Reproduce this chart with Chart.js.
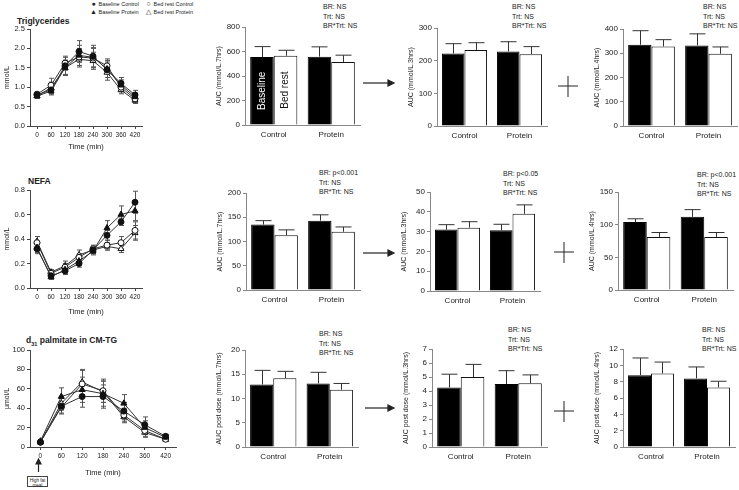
<!DOCTYPE html>
<html>
<head>
<meta charset="utf-8">
<script src="https://cdn.jsdelivr.net/npm/chart.js@4.4.1/dist/chart.umd.min.js"></script>
<style>
body{margin:0;background:#fff;width:739px;height:490px;position:relative;overflow:hidden;font-family:'Liberation Sans',Arial,sans-serif;color:#222}
canvas{position:absolute}
.t{position:absolute;white-space:nowrap}
.ttl{font-size:8.5px;font-weight:bold}
.ann{font-family:'Liberation Sans Narrow','Liberation Sans',Arial,sans-serif;font-size:7px;line-height:9.5px}
.leg{font-size:5.5px;line-height:7px}
.leg span{display:inline-block;width:7px;font-size:7px;text-align:center}
svg{position:absolute;left:0;top:0}
</style>
</head>
<body>

<div class="t leg" style="left:90px;top:0px"><span>●</span> Baseline Control<br><span>▲</span> Baseline Protein</div>
<div class="t leg" style="left:145px;top:0px"><span>○</span> Bed rest Control<br><span>△</span> Bed rest Protein</div>

<div class="t ttl" style="left:17px;top:16px">Triglycerides</div>
<div class="t ttl" style="left:28px;top:176px">NEFA</div>
<div class="t ttl" style="left:26px;top:335px">d<sub style="font-size:5.5px">31</sub> palmitate in CM-TG</div>

<div class="t ann" style="left:323px;top:2px">BR: NS<br>Trt: NS<br>BR*Trt: NS</div>
<div class="t ann" style="left:512px;top:2px">BR: NS<br>Trt: NS<br>BR*Trt: NS</div>
<div class="t ann" style="left:703px;top:2px">BR: NS<br>Trt: NS<br>BR*Trt: NS</div>
<div class="t ann" style="left:319px;top:168px">BR: p&lt;0.001<br>Trt: NS<br>BR*Trt: NS</div>
<div class="t ann" style="left:503px;top:169px">BR: p&lt;0.05<br>Trt: NS<br>BR*Trt: NS</div>
<div class="t ann" style="left:697px;top:170px">BR: p&lt;0.001<br>Trt: NS<br>BR*Trt: NS</div>
<div class="t ann" style="left:319px;top:329px">BR: NS<br>Trt: NS<br>BR*Trt: NS</div>
<div class="t ann" style="left:508px;top:325px">BR: NS<br>Trt: NS<br>BR*Trt: NS</div>
<div class="t ann" style="left:702px;top:325px">BR: NS<br>Trt: NS<br>BR*Trt: NS</div>

<div class="t" style="left:27px;top:476px;width:21px;height:11px;border:1px solid #444;font-size:4.5px;line-height:5px;text-align:center;padding-top:1px;box-sizing:border-box">High fat<br>meal</div>

<svg width="739" height="490">
  <g stroke="#222" stroke-width="1.2" fill="#222">
    <line x1="363" y1="83" x2="388" y2="83"/><polygon points="388,80 394,83 388,86"/>
    <line x1="363" y1="253" x2="388" y2="253"/><polygon points="388,250 394,253 388,256"/>
    <line x1="365" y1="408" x2="388" y2="408"/><polygon points="388,405 394,408 388,411"/>
    <line x1="38.5" y1="472" x2="38.5" y2="464"/><polygon points="36,464 38.5,459 41,464"/>
  </g>
  <g stroke="#222" stroke-width="1" fill="none">
    <line x1="558" y1="86" x2="578" y2="86"/><line x1="568" y1="76" x2="568" y2="97"/>
    <line x1="554" y1="252" x2="574" y2="252"/><line x1="564" y1="242" x2="564" y2="263"/>
    <line x1="554" y1="411" x2="574" y2="411"/><line x1="564" y1="401" x2="564" y2="422"/>
  </g>
</svg>

<script>
Chart.defaults.font.family = "'Liberation Sans', Arial, sans-serif";
Chart.defaults.color = '#222';

const timeLabels = ['0', '60', '120', '180', '240', '300', '360', '420'];
const timeLabelsPalm = ['0', '60', '120', '180', '240', '360', '420'];
const seriesNames = ['Baseline Control', 'Baseline Protein', 'Bed rest Control', 'Bed rest Protein'];
const groups = ['Control', 'Protein'];
const barNames = ['Baseline', 'Bed rest'];

// triglycerides, mmol/L
const tgBaseCtrl = [0.80, 0.93, 1.55, 1.92, 1.80, 1.45, 1.10, 0.80];
const tgBaseProt = [0.77, 0.90, 1.50, 1.82, 1.77, 1.47, 1.05, 0.75];
const tgBedCtrl = [0.82, 1.05, 1.62, 1.78, 1.75, 1.55, 1.00, 0.70];
const tgBedProt = [0.78, 0.98, 1.50, 1.72, 1.68, 1.38, 0.93, 0.66];
const tgBaseCtrlSE = [0.06, 0.10, 0.22, 0.28, 0.28, 0.20, 0.15, 0.12];
const tgBaseProtSE = [0.06, 0.10, 0.20, 0.26, 0.25, 0.22, 0.14, 0.10];
const tgBedCtrlSE = [0.05, 0.18, 0.18, 0.22, 0.25, 0.18, 0.12, 0.08];
const tgBedProtSE = [0.06, 0.15, 0.18, 0.20, 0.22, 0.20, 0.10, 0.08];

// NEFA, mmol/L
const nefaBaseCtrl = [0.32, 0.10, 0.14, 0.20, 0.31, 0.43, 0.54, 0.70];
const nefaBaseProt = [0.33, 0.09, 0.15, 0.22, 0.30, 0.49, 0.60, 0.63];
const nefaBedCtrl = [0.37, 0.12, 0.17, 0.25, 0.32, 0.35, 0.37, 0.47];
const nefaBedProt = [0.38, 0.13, 0.18, 0.27, 0.31, 0.34, 0.32, 0.45];
const nefaBaseCtrlSE = [0.04, 0.02, 0.03, 0.03, 0.03, 0.04, 0.03, 0.09];
const nefaBaseProtSE = [0.04, 0.02, 0.03, 0.03, 0.03, 0.06, 0.07, 0.08];
const nefaBedCtrlSE = [0.05, 0.02, 0.03, 0.03, 0.03, 0.04, 0.05, 0.07];
const nefaBedProtSE = [0.04, 0.02, 0.04, 0.04, 0.03, 0.03, 0.03, 0.06];

// d31 palmitate in CM-TG, umol/L
const palmBaseCtrl = [5, 42, 52, 52, 37, 23, 11];
const palmBaseProt = [6, 52, 59, 55, 45, 20, 10];
const palmBedCtrl = [5, 41, 65, 58, 33, 17, 8];
const palmBedProt = [5, 45, 67, 57, 31, 15, 8];
const palmBaseCtrlSE = [1, 8, 11, 12, 9, 8, 2];
const palmBaseProtSE = [1, 9, 13, 13, 9, 7, 2];
const palmBedCtrlSE = [1, 6, 14, 12, 7, 6, 2];
const palmBedProtSE = [1, 7, 13, 11, 6, 5, 2];

// AUC bars: [Control, Protein]
const tg7Base = [555, 558], tg7Bed = [565, 515], tg7BaseSE = [85, 80], tg7BedSE = [45, 55];
const tg3Base = [222, 228], tg3Bed = [233, 220], tg3BaseSE = [30, 30], tg3BedSE = [22, 23];
const tg4Base = [335, 332], tg4Bed = [328, 298], tg4BaseSE = [58, 48], tg4BedSE = [28, 28];
const nefa7Base = [135, 143], nefa7Bed = [113, 120], nefa7BaseSE = [8, 12], nefa7BedSE = [11, 10];
const nefa3Base = [31, 30.7], nefa3Bed = [32, 39], nefa3BaseSE = [2.5, 3], nefa3BedSE = [3, 4.5];
const nefa4Base = [104, 112], nefa4Bed = [81, 81], nefa4BaseSE = [5, 11], nefa4BedSE = [7, 7];
const palm7Base = [12.9, 13.1], palm7Bed = [14.2, 11.8], palm7BaseSE = [2.9, 2.3], palm7BedSE = [1.4, 1.3];
const palm3Base = [4.25, 4.5], palm3Bed = [5.0, 4.55], palm3BaseSE = [0.95, 0.95], palm3BedSE = [0.9, 0.6];
const palm4Base = [8.8, 8.4], palm4Bed = [9.0, 7.3], palm4BaseSE = [2.1, 1.4], palm4BedSE = [1.4, 0.75];

const errorBars = {
  id: 'errorBars',
  draw(chart, opts) {
    const ctx = chart.ctx;
    const ys = chart.scales.y;
    chart.data.datasets.forEach((ds, i) => {
      if (!ds.errors) return;
      const meta = chart.getDatasetMeta(i);
      ctx.save();
      ctx.strokeStyle = opts.color;
      ctx.lineWidth = 1;
      meta.data.forEach((el, j) => {
        const v = ds.data[j], e = ds.errors[j];
        const x = Math.round(el.x) + 0.5;
        const top = ys.getPixelForValue(v + e);
        const bot = ys.getPixelForValue(opts.oneSided ? v : v - e);
        ctx.beginPath();
        ctx.moveTo(x, top); ctx.lineTo(x, bot);
        ctx.moveTo(x - opts.cap, top); ctx.lineTo(x + opts.cap, top);
        if (!opts.oneSided) { ctx.moveTo(x - opts.cap, bot); ctx.lineTo(x + opts.cap, bot); }
        ctx.stroke();
      });
      ctx.restore();
    });
  },
  beforeDatasetsDraw(chart, args, opts) { if (opts.before) this.draw(chart, opts); },
  afterDatasetsDraw(chart, args, opts) { if (!opts.before) this.draw(chart, opts); }
};

// rotated "Baseline" / "Bed rest" inside the first bar chart
const barLabels = {
  id: 'barLabels',
  afterDatasetsDraw(chart, args, opts) {
    if (!opts.show) return;
    const ctx = chart.ctx;
    chart.data.datasets.forEach((ds, i) => {
      const el = chart.getDatasetMeta(i).data[0];
      ctx.save();
      ctx.translate(el.x, (el.y + el.base) / 2);
      ctx.rotate(-Math.PI / 2);
      ctx.font = "10px 'Liberation Sans', Arial, sans-serif";
      ctx.fillStyle = i === 0 ? '#fff' : '#111';
      ctx.textAlign = 'center';
      ctx.textBaseline = 'middle';
      ctx.fillText(ds.label, 0, 0);
      ctx.restore();
    });
  }
};

function makeCanvas(a, m) {
  const c = document.createElement('canvas');
  c.width = a.x1 - a.x0 + m.l + m.r;
  c.height = a.y1 - a.y0 + m.t + m.b;
  c.style.left = (a.x0 - m.l) + 'px';
  c.style.top = (a.y0 - m.t) + 'px';
  document.body.appendChild(c);
  return c;
}

const marker = [
  { style: 'circle', fill: '#111', r: 3 },
  { style: 'triangle', fill: '#111', r: 3.5 },
  { style: 'circle', fill: '#fff', r: 3 },
  { style: 'triangle', fill: '#fff', r: 3.5 }
];

function lineChart(a, m, labels, yMax, yStep, dec, yTitle, series, errs) {
  new Chart(makeCanvas(a, m), {
    type: 'line',
    data: {
      labels: labels,
      datasets: series.map((d, i) => ({
        label: seriesNames[i],
        data: d,
        errors: errs[i],
        borderColor: '#333',
        borderWidth: 1,
        pointStyle: marker[i].style,
        pointRadius: marker[i].r,
        pointBackgroundColor: marker[i].fill,
        pointBorderColor: '#111',
        pointBorderWidth: 1
      }))
    },
    options: {
      responsive: false, animation: false, devicePixelRatio: 1,
      layout: { padding: { top: m.t, right: m.r, left: 0, bottom: 0 } },
      plugins: {
        legend: { display: false }, tooltip: { enabled: false },
        errorBars: { cap: 2.5, before: true, color: '#555' }
      },
      scales: {
        x: {
          offset: true,
          grid: { drawOnChartArea: false, tickLength: 3, color: '#444' },
          border: { color: '#444' },
          ticks: { font: { size: 6.5 }, padding: 2, maxRotation: 0, autoSkip: false },
          title: { display: true, text: 'Time (min)', font: { size: 7.5 }, padding: 0 },
          afterFit: s => { s.height = m.b; }
        },
        y: {
          min: 0, max: yMax,
          grid: { drawOnChartArea: false, tickLength: 3, color: '#444' },
          border: { color: '#444' },
          ticks: { stepSize: yStep, font: { size: 7.5 }, padding: 2, callback: v => v.toFixed(dec) },
          title: { display: true, text: yTitle, font: { size: 7 }, padding: { top: 3, bottom: 0 } },
          afterFit: s => { s.width = m.l; }
        }
      }
    },
    plugins: [errorBars]
  });
}

function barChart(a, yMax, yStep, yTitle, base, bed, baseSE, bedSE, showNames) {
  const m = { l: 30, r: 4, t: 8, b: 20 };
  new Chart(makeCanvas(a, m), {
    type: 'bar',
    data: {
      labels: groups,
      datasets: [
        { label: barNames[0], data: base, errors: baseSE, backgroundColor: '#000', borderColor: '#000', borderWidth: 1 },
        { label: barNames[1], data: bed, errors: bedSE, backgroundColor: '#fff', borderColor: '#111', borderWidth: 1 }
      ]
    },
    options: {
      responsive: false, animation: false, devicePixelRatio: 1,
      layout: { padding: { top: m.t, right: m.r, left: 0, bottom: 0 } },
      datasets: { bar: { barPercentage: 1, categoryPercentage: 0.82 } },
      plugins: {
        legend: { display: false }, tooltip: { enabled: false },
        errorBars: { cap: 8, oneSided: true, color: '#333' },
        barLabels: { show: showNames }
      },
      scales: {
        x: {
          grid: { display: false, drawTicks: false },
          border: { color: '#888' },
          ticks: { font: { size: 8 }, padding: 5 },
          afterFit: s => { s.height = m.b; }
        },
        y: {
          min: 0, max: yMax,
          grid: { drawOnChartArea: false, tickLength: 3, color: '#888' },
          border: { color: '#888' },
          ticks: { stepSize: yStep, font: { size: 8 }, padding: 2 },
          title: { display: true, text: yTitle, font: { size: 7 }, padding: 0 },
          afterFit: s => { s.width = m.l; }
        }
      }
    },
    plugins: [errorBars, barLabels]
  });
}

// row 1: triglycerides
lineChart({ x0: 30, x1: 145, y0: 29, y1: 126 }, { l: 30, r: 2, t: 8, b: 25 }, timeLabels, 2.5, 0.5, 1, 'mmol/L',
  [tgBaseCtrl, tgBaseProt, tgBedCtrl, tgBedProt], [tgBaseCtrlSE, tgBaseProtSE, tgBedCtrlSE, tgBedProtSE]);
barChart({ x0: 245, x1: 360, y0: 27, y1: 125 }, 800, 200, 'AUC (mmol/L.7hrs)', tg7Base, tg7Bed, tg7BaseSE, tg7BedSE, true);
barChart({ x0: 437, x1: 547, y0: 28, y1: 126 }, 300, 100, 'AUC (mmol/L.3hrs)', tg3Base, tg3Bed, tg3BaseSE, tg3BedSE, false);
barChart({ x0: 623, x1: 737, y0: 29, y1: 126 }, 400, 100, 'AUC (mmol/L.4hrs)', tg4Base, tg4Bed, tg4BaseSE, tg4BedSE, false);

// row 2: NEFA
lineChart({ x0: 30, x1: 145, y0: 190, y1: 288 }, { l: 30, r: 2, t: 8, b: 28 }, timeLabels, 0.8, 0.2, 1, 'mmol/L',
  [nefaBaseCtrl, nefaBaseProt, nefaBedCtrl, nefaBedProt], [nefaBaseCtrlSE, nefaBaseProtSE, nefaBedCtrlSE, nefaBedProtSE]);
barChart({ x0: 246, x1: 360, y0: 193, y1: 290 }, 200, 50, 'AUC (mmol/L.7hrs)', nefa7Base, nefa7Bed, nefa7BaseSE, nefa7BedSE, false);
barChart({ x0: 430, x1: 540, y0: 192, y1: 291 }, 50, 10, 'AUC (mmol/L.3hrs)', nefa3Base, nefa3Bed, nefa3BaseSE, nefa3BedSE, false);
barChart({ x0: 618, x1: 733, y0: 192, y1: 290 }, 150, 50, 'AUC (mmol/L.4hrs)', nefa4Base, nefa4Bed, nefa4BaseSE, nefa4BedSE, false);

// row 3: d31 palmitate
lineChart({ x0: 30, x1: 179, y0: 350, y1: 447 }, { l: 30, r: 2, t: 8, b: 30 }, timeLabelsPalm, 100, 20, 0, 'µmol/L',
  [palmBaseCtrl, palmBaseProt, palmBedCtrl, palmBedProt], [palmBaseCtrlSE, palmBaseProtSE, palmBedCtrlSE, palmBedProtSE]);
barChart({ x0: 245, x1: 358, y0: 350, y1: 447 }, 20, 5, 'AUC post dose (mmol/L.7hrs)', palm7Base, palm7Bed, palm7BaseSE, palm7BedSE, false);
barChart({ x0: 432, x1: 547, y0: 349, y1: 447 }, 7, 1, 'AUC post dose (mmol/L.3hrs)', palm3Base, palm3Bed, palm3BaseSE, palm3BedSE, false);
barChart({ x0: 623, x1: 735, y0: 349, y1: 447 }, 12, 2, 'AUC post dose (mmol/L.4hrs)', palm4Base, palm4Bed, palm4BaseSE, palm4BedSE, false);
</script>
</body>
</html>
